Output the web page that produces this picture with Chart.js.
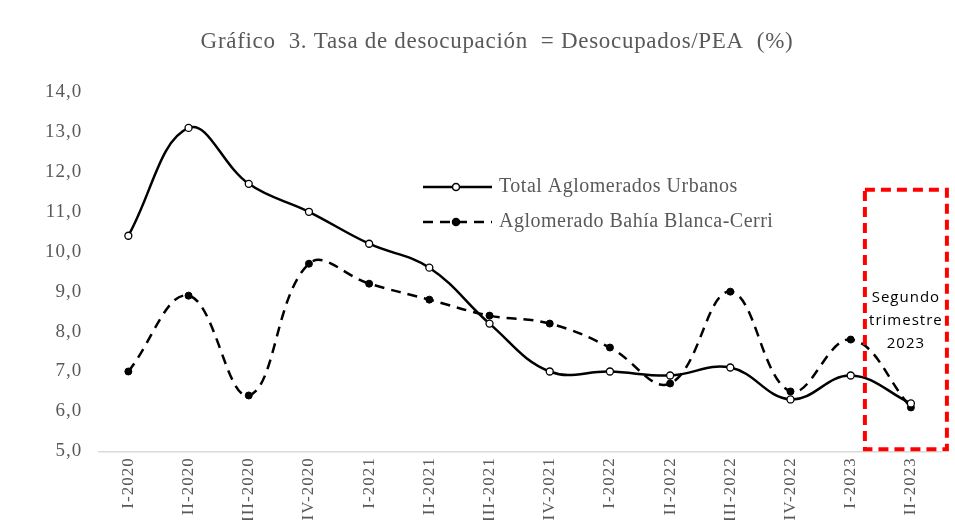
<!DOCTYPE html>
<html>
<head>
<meta charset="utf-8">
<script src="https://cdn.jsdelivr.net/npm/chart.js@4.4.0/dist/chart.umd.min.js"></script>
<style>
  html, body { margin: 0; padding: 0; background: #fff; }
  #wrap { width: 955px; height: 529px; position: relative; }
</style>
</head>
<body>
<div id="wrap"><canvas id="desocChart"></canvas></div>
<script>
// Trimestres
const quarters = ['I-2020', 'II-2020', 'III-2020', 'IV-2020', 'I-2021', 'II-2021', 'III-2021',
    'IV-2021', 'I-2022', 'II-2022', 'III-2022', 'IV-2022', 'I-2023', 'II-2023'];

// Tasa de desocupación (%)
const totalUrbanos = [10.4, 13.1, 11.7, 11.0, 10.2, 9.6, 8.2, 7.0, 7.0, 6.9, 7.1, 6.3, 6.9, 6.2];
const bahiaBlanca = [7.0, 8.9, 6.4, 9.7, 9.2, 8.8, 8.4, 8.2, 7.6, 6.7, 9.0, 6.5, 7.8, 6.1];

const yTicks = [5, 6, 7, 8, 9, 10, 11, 12, 13, 14];
const chartTitle = 'Gráfico  3. Tasa de desocupación  = Desocupados/PEA  (%)';
const highlightLines = ['Segundo', 'trimestre', '2023'];

const SERIF = '"Liberation Serif", "DejaVu Serif", serif';
const GREY = '#595959';

// a little letter spacing for the axis labels, like the original
const spacingPlugin = {
    id: 'tickSpacing',
    beforeDraw(chart) { chart.ctx.letterSpacing = '1px'; },
    beforeDatasetsDraw(chart) { chart.ctx.letterSpacing = '0px'; }
};

// title drawn by hand so it sits a bit right of centre like the original
const titlePlugin = {
    id: 'customTitle',
    afterDraw(chart) {
        const ctx = chart.ctx;
        ctx.save();
        ctx.letterSpacing = '0.7px';
        ctx.font = '23px ' + SERIF;
        ctx.fillStyle = GREY;
        ctx.textAlign = 'center';
        ctx.textBaseline = 'alphabetic';
        ctx.fillText(chartTitle, 497, 48);
        ctx.restore();
    }
};

// legend inside the plot area
const legendPlugin = {
    id: 'insideLegend',
    afterDraw(chart) {
        const ctx = chart.ctx;
        const rows = [{ y: 187, ds: chart.data.datasets[0] }, { y: 222, ds: chart.data.datasets[1] }];
        ctx.save();
        rows.forEach(row => {
            ctx.strokeStyle = '#000';
            ctx.lineWidth = 2.5;
            ctx.setLineDash(row.ds.borderDash || []);
            ctx.beginPath();
            ctx.moveTo(423, row.y);
            ctx.lineTo(492, row.y);
            ctx.stroke();
            ctx.setLineDash([]);
            ctx.beginPath();
            ctx.arc(456, row.y, 3.5, 0, Math.PI * 2);
            ctx.fillStyle = row.ds.pointBackgroundColor;
            ctx.fill();
            ctx.lineWidth = 1.5;
            ctx.stroke();
            ctx.letterSpacing = '0.5px';
            ctx.font = '20px ' + SERIF;
            ctx.fillStyle = GREY;
            ctx.textAlign = 'left';
            ctx.textBaseline = 'middle';
            ctx.fillText(row.ds.label, 499, row.y);
            ctx.letterSpacing = '0px';
        });
        ctx.restore();
    }
};

// red dashed box around the last quarter
const highlightPlugin = {
    id: 'highlightBox',
    afterDatasetsDraw(chart) {
        const ctx = chart.ctx;
        const xs = chart.scales.x, ys = chart.scales.y;
        const cx = xs.getPixelForValue(quarters.length - 1);
        const left = cx - 46, right = cx + 36;
        const top = ys.getPixelForValue(11.55), bottom = ys.getPixelForValue(5.05);
        ctx.save();
        ctx.strokeStyle = '#ff0000';
        ctx.lineWidth = 4;
        ctx.setLineDash([10, 6]);
        ctx.strokeRect(left, top, right - left, bottom - top);
        ctx.setLineDash([]);
        ctx.letterSpacing = '1px';
        ctx.font = '15px "Open Sans", "Liberation Sans", sans-serif';
        ctx.fillStyle = '#000';
        ctx.textAlign = 'center';
        ctx.textBaseline = 'middle';
        highlightLines.forEach((t, i) => {
            ctx.fillText(t, (left + right) / 2, 298 + i * 23);
        });
        ctx.restore();
    }
};

const ctx = document.getElementById('desocChart').getContext('2d');
new Chart(ctx, {
    type: 'line',
    data: {
        labels: quarters,
        datasets: [{
            label: 'Total Aglomerados Urbanos',
            data: totalUrbanos,
            borderColor: '#000',
            borderWidth: 2.5,
            tension: 0.4,
            pointRadius: 3.5,
            pointBackgroundColor: '#fff',
            pointBorderColor: '#000',
            pointBorderWidth: 1.3
        }, {
            label: 'Aglomerado Bahía Blanca-Cerri',
            data: bahiaBlanca,
            borderColor: '#000',
            borderWidth: 2.5,
            borderDash: [10, 7],
            tension: 0.4,
            pointRadius: 3.5,
            pointBackgroundColor: '#000',
            pointBorderColor: '#000',
            pointBorderWidth: 1
        }]
    },
    options: {
        responsive: true,
        maintainAspectRatio: false,
        animation: false,
        layout: {
            padding: { top: 92, left: 33, right: 14, bottom: 9 }
        },
        plugins: {
            legend: { display: false },
            title: { display: false },
            tooltip: { enabled: false }
        },
        scales: {
            x: {
                offset: true,
                grid: { display: false, drawTicks: false },
                border: { display: true, color: '#d9d9d9', width: 1.5 },
                ticks: {
                    color: GREY,
                    font: { family: SERIF, size: 17 },
                    maxRotation: 90,
                    minRotation: 90,
                    padding: 6
                }
            },
            y: {
                min: 5,
                max: 14,
                grid: { display: false, drawTicks: false },
                border: { display: false },
                afterBuildTicks(axis) {
                    axis.ticks = yTicks.map(v => ({ value: v }));
                },
                ticks: {
                    color: GREY,
                    font: { family: SERIF, size: 19 },
                    padding: 16,
                    callback: v => v.toFixed(1).replace('.', ',')
                }
            }
        }
    },
    plugins: [spacingPlugin, titlePlugin, legendPlugin, highlightPlugin]
});
</script>
</body>
</html>
